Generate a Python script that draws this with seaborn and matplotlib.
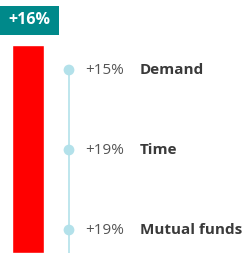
import matplotlib
matplotlib.use("Agg")
import matplotlib.pyplot as plt
import matplotlib.patches as mpatches
import seaborn as sns
import pandas as pd

total_label = "+16%"
total_value = [16]
categories = ["Demand", "Time", "Mutual funds"]
changes = ["+15%", "+19%", "+19%"]

sns.set_theme(style="white")
plt.rcParams['font.family'] = ['Open Sans', 'DejaVu Sans']

W, H = 248, 256
fig = plt.figure(figsize=(W / 100, H / 100), dpi=100)
fig.patch.set_facecolor("white")

def px_axes(x0, y0, x1, y1):
    return fig.add_axes([x0 / W, 1 - y1 / H, (x1 - x0) / W, (y1 - y0) / H])

# red total bar
axb = px_axes(12, 45, 44, 253)
sns.barplot(x=["total"], y=total_value, color="#ff0000", width=1.0, ax=axb,
            saturation=1)
axb.set_xlim(-0.5, 0.5)
axb.set_ylim(0, total_value[0])
axb.axis("off")

# teal label box
fig.patches.append(mpatches.Rectangle((0, 1 - 35 / H), 59 / W, 29 / H,
                                      transform=fig.transFigure,
                                      fc="#00898a", ec="none"))
fig.text(29 / W, 1 - 20.5 / H, total_label, ha="center", va="center",
         color="white", fontsize=11.5, fontweight="bold")

# timeline dots
df = pd.DataFrame({"cat": categories, "chg": changes, "x": [0] * 3})
axd = px_axes(0, 30, 248, 253)
axd.axis("off")
axd.vlines(0, 0, 2.4, color="#b3e1ea", lw=1.2, zorder=1)
sns.scatterplot(data=df, x="x", y=[0, 1, 2], color="#b3e1ea", s=60,
                edgecolor="none", ax=axd, zorder=2, legend=False)
for i, row in df.iterrows():
    axd.text(16, i, row["chg"], ha="left", va="center", color="#555555",
             fontsize=11)
    axd.text(71, i, row["cat"], ha="left", va="center", color="#3a3a3a",
             fontsize=11, fontweight="bold")
axd.set_xlim(-69, 179)
axd.set_ylim(2.2875, -0.5)

fig.savefig("out.png", dpi=100)
